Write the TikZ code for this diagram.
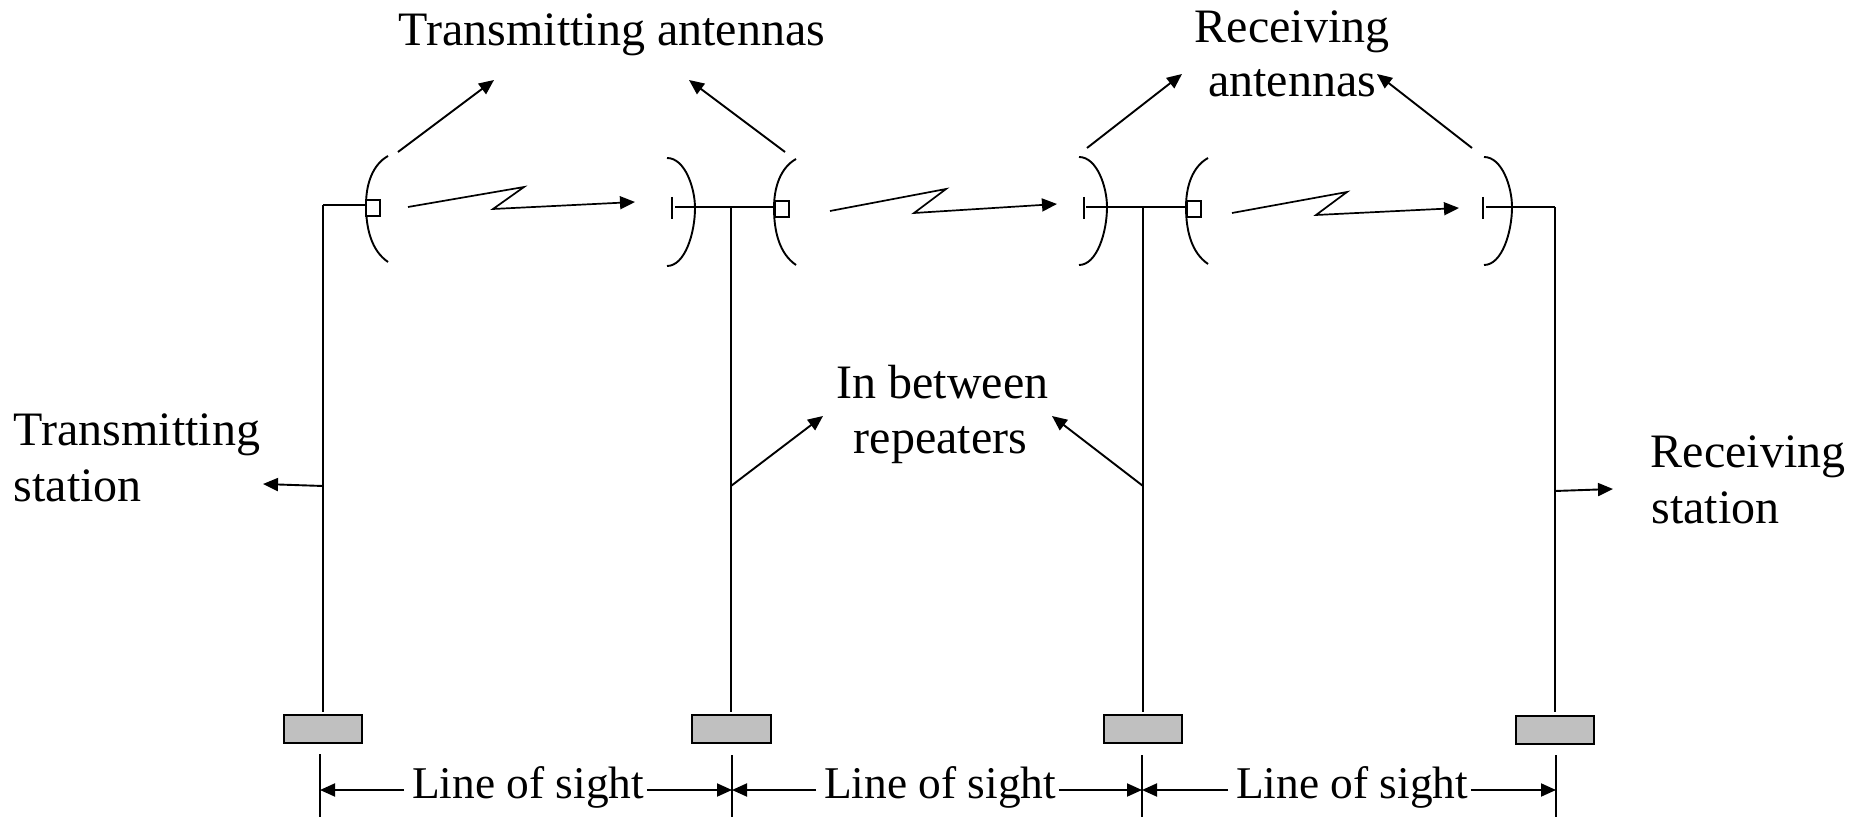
\documentclass[tikz,border=0pt]{standalone}
\usepackage{fontspec}
\setmainfont{Liberation Serif}
\usetikzlibrary{arrows.meta}
\definecolor{basegray}{HTML}{C0C0C0}
\tikzset{
  x=0.5pt,y=-0.5pt,
  every path/.style={line width=0.95pt},
  lbl/.style={font=\fontsize{24}{24}\selectfont,inner sep=0pt,anchor=base},
  lblw/.style={lbl,anchor=base west},
  lblsm/.style={font=\fontsize{22.7}{24}\selectfont,inner sep=0pt,anchor=base},
  arr/.style={-{Triangle[length=7.5pt,width=6.5pt]}},
  dimarr/.style={-{Triangle[length=7.5pt,width=6.5pt]}},
  basebox/.style={draw=black,fill=basegray,minimum width=39.2pt,minimum height=14.2pt,inner sep=0pt,line width=0.95pt},
  feedbox/.style={draw=black,fill=white,minimum width=7pt,minimum height=8pt,inner sep=0pt,line width=0.95pt},
  tick/.style={line width=0.95pt}
}
\newcommand{\dishleft}[2]{% mid x, mid y
  \draw (#1+22,#2-49) .. controls (#1+6,#2-40) and (#1,#2-20) .. (#1,#2) .. controls (#1,#2+25) and (#1+6,#2+46) .. (#1+22,#2+57);}
\newcommand{\dishright}[2]{%
  \draw (#1-28,#2-50) .. controls (#1-10,#2-50) and (#1,#2-20) .. (#1,#2) .. controls (#1,#2+25) and (#1-10,#2+58) .. (#1-28,#2+58);}
\begin{document}
\begin{tikzpicture}
\useasboundingbox (0,0) rectangle (1868,817);
% ground stations
\node[basebox] (b1) at (323,729) {};
\node[basebox] (b2) at (731.5,729) {};
\node[basebox] (b3) at (1143,729) {};
\node[basebox] (b4) at (1555,730) {};
% tower tops
\coordinate (t1) at (323,205);
\coordinate (t2) at (731,207);
\coordinate (t3) at (1143,207);
\coordinate (t4) at (1555,207);
% towers
\coordinate (g1) at (323,712);
\coordinate (g2) at (731,712);
\coordinate (g3) at (1143,712);
\coordinate (g4) at (1555,712);
\draw (t1) -- (g1);
\draw (t2) -- (g2);
\draw (t3) -- (g3);
\draw (t4) -- (g4);
% dishes
\dishleft{366}{205}
\dishright{695}{208}
\dishleft{774}{208}
\dishright{1107}{207}
\dishleft{1186}{207}
\dishright{1512}{207}
% feeds
\node[feedbox] (f1) at (373,208) {};
\node[feedbox] (f2) at (782,209) {};
\node[feedbox] (f3) at (1194,209) {};
\coordinate (r1) at (675,207);
\coordinate (r2) at (1086,207);
\coordinate (r3) at (1486,207);
\draw (t1) -- (f1.west |- t1);
\draw (r1) -- (f2.west |- r1);
\draw (r2) -- (f3.west |- r2);
\draw (r3) -- (t4);
\coordinate (ba) at (672,197); \coordinate (bb) at (672,219);
\coordinate (bc) at (1084,197); \coordinate (bd) at (1084,219);
\coordinate (be) at (1483,197); \coordinate (bf) at (1483,219);
\draw (ba) -- (bb);
\draw (bc) -- (bd);
\draw (be) -- (bf);
% radio links
\draw[arr,line join=miter,line width=0.85pt] (408,207) -- (524,187) -- (493,209) -- (635,202);
\draw[arr,line join=miter,line width=0.85pt] (830,211) -- (946,189) -- (914,213) -- (1057,204);
\draw[arr,line join=miter,line width=0.85pt] (1232,213) -- (1347,192) -- (1316,215) -- (1459,208);
% labels
\node[lbl] (ta) at (612,46) {Transmitting antennas};
\node[lbl] (ra1) at (1292,43) {Receiving};
\node[lbl] (ra2) at (1292,97) {antennas};
\node[lbl] (ib1) at (942.5,398.5) {In between};
\node[lbl] (ib2) at (940.5,453.5) {repeaters};
\node[lblw] (ts1) at (13,446) {Transmitting};
\node[lblw] (ts2) at (13,502) {station};
\node[lblw] (rs1) at (1650,468) {Receiving};
\node[lblw] (rs2) at (1650.5,524) {station};
% pointers
\coordinate (pa1) at (398,152); \coordinate (pa2) at (494,80);
\coordinate (pb1) at (785,152); \coordinate (pb2) at (689,80);
\coordinate (pc1) at (1087,148); \coordinate (pc2) at (1182,74);
\coordinate (pd1) at (1472,148); \coordinate (pd2) at (1377,74);
\coordinate (pe1) at (323,486); \coordinate (pe2) at (263,484);
\coordinate (pf1) at (731,486); \coordinate (pf2) at (823,416);
\coordinate (pg1) at (1143,486); \coordinate (pg2) at (1052,416);
\coordinate (ph1) at (1555,491); \coordinate (ph2) at (1613,489);
\draw[arr] (pa1) -- (pa2);
\draw[arr] (pb1) -- (pb2);
\draw[arr] (pc1) -- (pc2);
\draw[arr] (pd1) -- (pd2);
\draw[arr] (pe1) -- (pe2);
\draw[arr] (pf1) -- (pf2);
\draw[arr] (pg1) -- (pg2);
\draw[arr] (ph1) -- (ph2);
% line of sight dimensions
\coordinate (d1t) at (320,754); \coordinate (d1b) at (320,817);
\coordinate (d2t) at (732,755); \coordinate (d2b) at (732,817);
\coordinate (d3t) at (1142,755); \coordinate (d3b) at (1142,817);
\coordinate (d4t) at (1556,755); \coordinate (d4b) at (1556,817);
\draw[tick] (d1t) -- (d1b);
\draw[tick] (d2t) -- (d2b);
\draw[tick] (d3t) -- (d3b);
\draw[tick] (d4t) -- (d4b);
\node[lblsm] (l1) at (528,798) {Line of sight};
\node[lblsm] (l2) at (940,798) {Line of sight};
\node[lblsm] (l3) at (1352,798) {Line of sight};
\coordinate (y1) at (0,790);
\draw[dimarr] (l1.west |- y1) ++(-7,0) -- (d1t |- y1);
\draw[dimarr] (l1.east |- y1) ++(2,0) -- (d2t |- y1);
\draw[dimarr] (l2.west |- y1) ++(-7,0) -- (d2t |- y1);
\draw[dimarr] (l2.east |- y1) ++(2,0) -- (d3t |- y1);
\draw[dimarr] (l3.west |- y1) ++(-7,0) -- (d3t |- y1);
\draw[dimarr] (l3.east |- y1) ++(2,0) -- (d4t |- y1);
\end{tikzpicture}
\end{document}
